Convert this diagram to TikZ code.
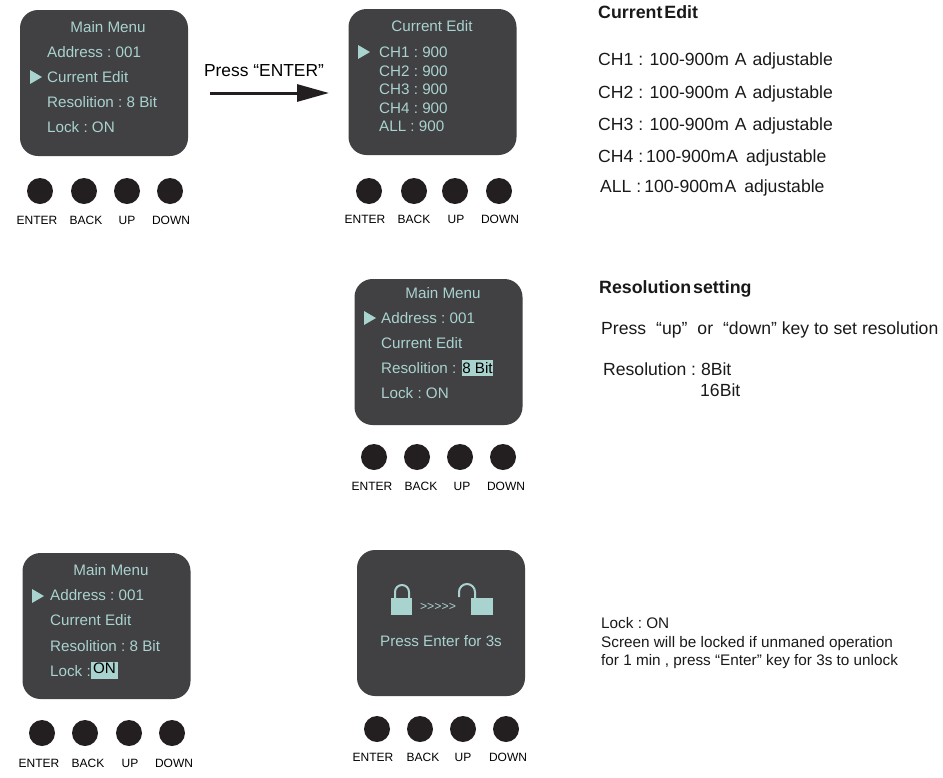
\documentclass[tikz,border=0pt]{standalone}
\usepackage{fontspec}
\usepackage{tikz}
\usetikzlibrary{arrows.meta}
\setmainfont{Liberation Sans}
\frenchspacing

\definecolor{screengray}{HTML}{414042}
\definecolor{screentext}{HTML}{A9D3CF}
\definecolor{keyblack}{HTML}{231F20}

\tikzset{
    screen/.style={shape=rectangle, fill=screengray, rounded corners=18pt, minimum width=168pt, minimum height=146pt},
    menutitle/.style={color=screentext, inner sep=0pt, text height=10.8pt, text depth=0pt, font=\fontsize{15.2}{16}\selectfont},
    menuitem/.style={menutitle, anchor=west},
    menumark/.style={shape=rectangle, fill=screentext, inner sep=0pt},
    selected/.style={shape=rectangle, fill=screentext, text=black, inner sep=0pt, text height=10.8pt, text depth=0pt, font=\fontsize{15.2}{16}\selectfont},
    pointer/.style={fill=screentext},
    keybutton/.style={shape=circle, fill=keyblack, minimum size=26pt, inner sep=0pt},
    keylabel/.style={inner sep=0pt, text height=8.6pt, text depth=0pt, font=\fontsize{12}{14}\selectfont},
    note/.style={anchor=west, inner sep=0pt, color=black!90, text height=12.4pt, text depth=0pt, font=\fontsize{17.6}{18}\selectfont},
    notehead/.style={note, font=\fontsize{17.8}{18}\selectfont\bfseries},
    smallnote/.style={anchor=west, inner sep=0pt, color=black!90, text height=11pt, text depth=0pt, font=\fontsize{15.3}{17}\selectfont}
}

\begin{document}
\begin{tikzpicture}[x=1pt, y=-1pt]
            \useasboundingbox (0,0) rectangle (943,777);

            % first screen
            \node[screen] (MenuA) at (104,83) {};
            \node[menutitle] (MenuATitle) at (108,27) {Main Menu};
            \node[menuitem] (MenuAAddress) at (47,52) {Address : 001};
            \node[menuitem] (MenuACurrent) at (47,77) {Current Edit};
            \node[menuitem] (MenuAResolition) at (47,102) {Resolition : 8 Bit};
            \node[menuitem] (MenuALock) at (47,127) {Lock : ON};
            \fill[pointer] (30,70) -- (42,77) -- (30,84) -- cycle;
            \node[keybutton] (EnterA) at (40,191) {};
            \node[keybutton] (BackA) at (84,191) {};
            \node[keybutton] (UpA) at (127,191) {};
            \node[keybutton] (DownA) at (170,191) {};
            \node[keylabel] (EnterALabel) at (37,220.5) {ENTER};
            \node[keylabel] (BackALabel) at (86,220.5) {BACK};
            \node[keylabel] (UpALabel) at (127,220.5) {UP};
            \node[keylabel] (DownALabel) at (171,220.5) {DOWN};

            % press enter arrow
            \node[inner sep=0pt, text height=12.4pt, text depth=0pt, font=\fontsize{17.4}{18}\selectfont] (PressEnter) at (264,70) {Press “ENTER”};
            \coordinate (ArrowStart) at (210,93);
            \coordinate (ArrowEnd) at (329,93);
            \draw[-{Triangle[length=32pt, width=17pt]}, line width=3pt, color=keyblack] (ArrowStart) -- (ArrowEnd);

            % current edit screen
            \node[screen] (MenuB) at (432.5,82) {};
            \node[menutitle] (MenuBTitle) at (432,26) {Current Edit};
            \node[menuitem] (ChOne) at (379,52) {CH1 : 900};
            \node[menuitem] (ChTwo) at (379,71) {CH2 : 900};
            \node[menuitem] (ChThree) at (379,89) {CH3 : 900};
            \node[menuitem] (ChFour) at (379,108) {CH4 : 900};
            \node[menuitem] (ChAll) at (379,126) {ALL : 900};
            \fill[pointer] (358,45) -- (370,52) -- (358,59) -- cycle;
            \node[keybutton] (EnterB) at (369,191) {};
            \node[keybutton] (BackB) at (414,191) {};
            \node[keybutton] (UpB) at (455,191) {};
            \node[keybutton] (DownB) at (499,191) {};
            \node[keylabel] (EnterBLabel) at (365,219.5) {ENTER};
            \node[keylabel] (BackBLabel) at (414,219.5) {BACK};
            \node[keylabel] (UpBLabel) at (456,219.5) {UP};
            \node[keylabel] (DownBLabel) at (500,219.5) {DOWN};

            % current edit notes
            \node[notehead] (CurrentHead) at (598,12) {Current\hspace{2pt}Edit};
            \node[note] (CurrentOne) at (598,59) {CH1 :\hspace{6.5pt}100-900m\hspace{6pt}A\hspace{6pt}adjustable};
            \node[note] (CurrentTwo) at (598,92) {CH2 :\hspace{6.5pt}100-900m\hspace{6pt}A\hspace{6pt}adjustable};
            \node[note] (CurrentThree) at (598,124) {CH3 :\hspace{6.5pt}100-900m\hspace{6pt}A\hspace{6pt}adjustable};
            \node[note] (CurrentFour) at (598,156) {CH4 :\hspace{3pt}100-900m\hspace{1pt}A\hspace{8pt}adjustable};
            \node[note] (CurrentAll) at (600,186) {ALL :\hspace{3pt}100-900m\hspace{1pt}A\hspace{8pt}adjustable};

            % resolution screen
            \node[screen] (MenuC) at (438.5,352) {};
            \node[menutitle] (MenuCTitle) at (443,293) {Main Menu};
            \node[menuitem] (MenuCAddress) at (381,318) {Address : 001};
            \node[menuitem] (MenuCCurrent) at (381,343) {Current Edit};
            \node[menuitem] (MenuCResolition) at (381,368) {Resolition :};
            \node[selected, minimum width=31pt, minimum height=16pt] (MenuCBit) at (477.5,368) {8 Bit};
            \node[menuitem] (MenuCLock) at (381,393) {Lock : ON};
            \fill[pointer] (364,311) -- (376,318) -- (364,325) -- cycle;
            \node[keybutton] (EnterC) at (374,457) {};
            \node[keybutton] (BackC) at (417,457) {};
            \node[keybutton] (UpC) at (460,457) {};
            \node[keybutton] (DownC) at (503,457) {};
            \node[keylabel] (EnterCLabel) at (372,486.5) {ENTER};
            \node[keylabel] (BackCLabel) at (421,486.5) {BACK};
            \node[keylabel] (UpCLabel) at (462,486.5) {UP};
            \node[keylabel] (DownCLabel) at (506,486.5) {DOWN};

            % resolution notes
            \node[notehead] (ResolutionHead) at (599,287) {Resolution\hspace{2pt}setting};
            \node[note] (ResolutionKeys) at (601,328) {Press\hspace{10pt}“up”\hspace{10pt}or\hspace{10pt}“down” key to set resolution};
            \node[note] (ResolutionEight) at (603,369) {Resolution : 8Bit};
            \node[note] (ResolutionSixteen) at (700,390) {16Bit};

            % lock screen
            \node[screen] (MenuD) at (106.5,626) {};
            \node[menutitle] (MenuDTitle) at (111,570) {Main Menu};
            \node[menuitem] (MenuDAddress) at (50,595) {Address : 001};
            \node[menuitem] (MenuDCurrent) at (50,620) {Current Edit};
            \node[menuitem] (MenuDResolition) at (50,646) {Resolition : 8 Bit};
            \node[menuitem] (MenuDLock) at (50,671) {Lock :};
            \node[selected, minimum width=27pt, minimum height=17pt] (MenuDOn) at (104.5,670.5) {\raisebox{2pt}{ON}};
            \fill[pointer] (32,589) -- (44,596) -- (32,603) -- cycle;
            \node[keybutton] (EnterD) at (42,733) {};
            \node[keybutton] (BackD) at (85,733) {};
            \node[keybutton] (UpD) at (129,733) {};
            \node[keybutton] (DownD) at (172,733) {};
            \node[keylabel] (EnterDLabel) at (39,763.5) {ENTER};
            \node[keylabel] (BackDLabel) at (88,763.5) {BACK};
            \node[keylabel] (UpDLabel) at (130,763.5) {UP};
            \node[keylabel] (DownDLabel) at (174,763.5) {DOWN};

            % unlock screen
            \node[screen] (MenuE) at (441,623) {};
            \node[menumark, minimum width=21pt, minimum height=17pt] (ClosedLock) at (401.5,606.5) {};
            \node[menumark, minimum width=22pt, minimum height=17pt] (OpenLock) at (482,606.5) {};
            \draw[color=screentext, line width=2pt] (395,598) -- (395,592) arc[start angle=180, end angle=0, radius=7pt] -- (409,598);
            \draw[color=screentext, line width=2pt] (459,597) -- (459,592) arc[start angle=180, end angle=0, radius=8pt] -- (475,598);
            \node[menutitle, text height=8pt, font=\fontsize{12.3}{13}\selectfont] (LockArrows) at (438,606) {>{}>{}>{}>{}>};
            \node[menutitle] (LockText) at (441,641) {Press Enter for 3s};
            \node[keybutton] (EnterE) at (377,729) {};
            \node[keybutton] (BackE) at (420,729) {};
            \node[keybutton] (UpE) at (463,729) {};
            \node[keybutton] (DownE) at (506,729) {};
            \node[keylabel] (EnterELabel) at (373,757.5) {ENTER};
            \node[keylabel] (BackELabel) at (423,757.5) {BACK};
            \node[keylabel] (UpELabel) at (463,757.5) {UP};
            \node[keylabel] (DownELabel) at (508,757.5) {DOWN};

            % lock notes
            \node[smallnote] (LockOne) at (601,623) {Lock : ON};
            \node[smallnote] (LockTwo) at (601,642) {Screen will be locked if unmaned operation};
            \node[smallnote] (LockThree) at (601,660) {for 1 min , press “Enter” key for 3s to unlock};
        \end{tikzpicture}
\end{document}
